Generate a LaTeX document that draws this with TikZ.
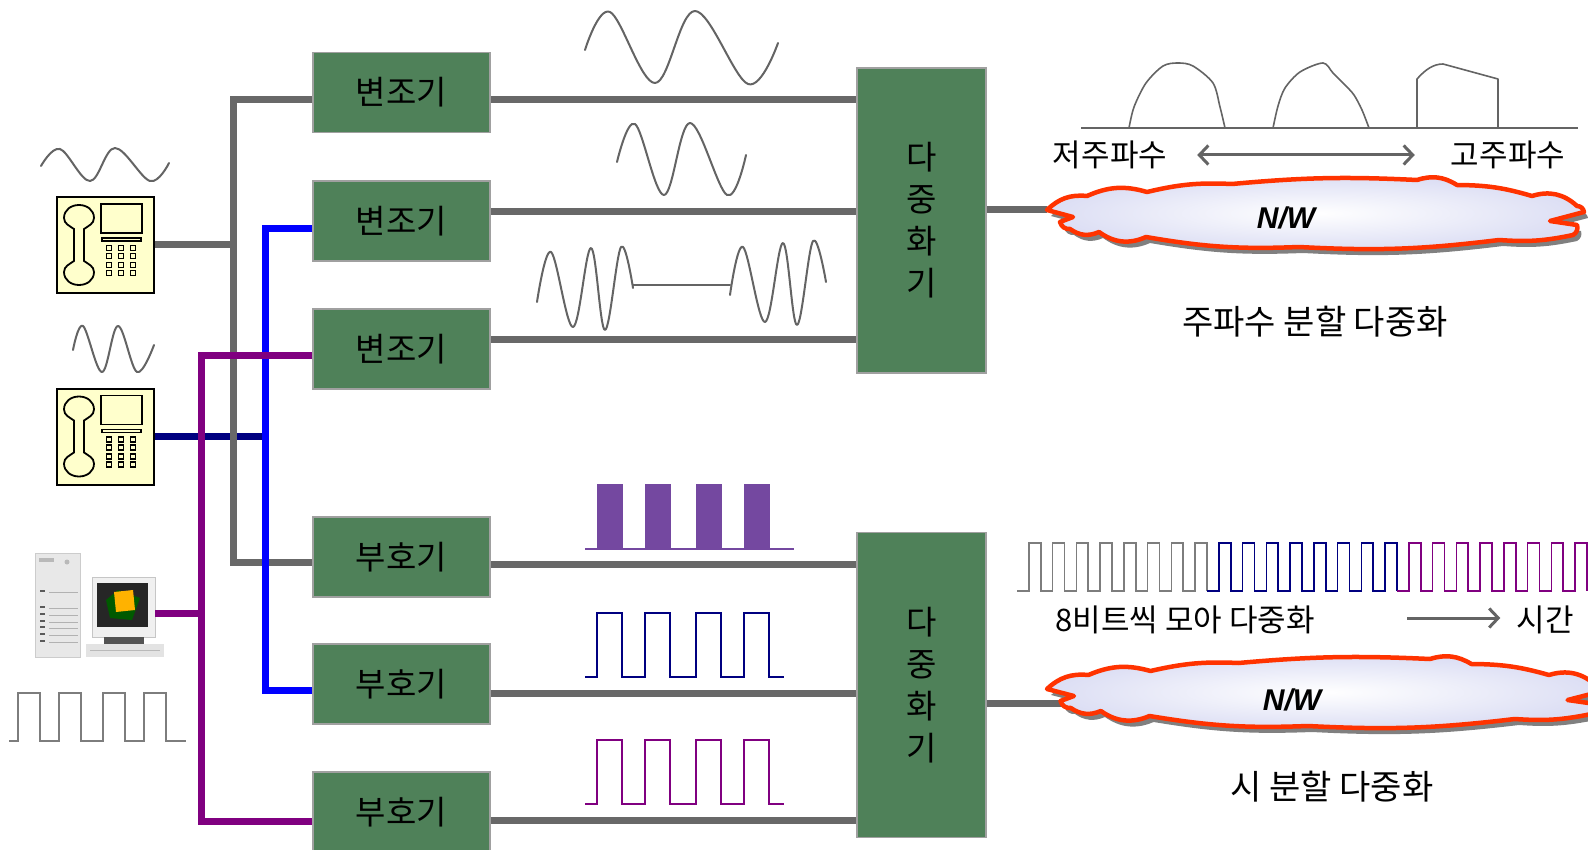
\documentclass[tikz,border=0pt]{standalone}
\usepackage{fontspec}
\setmainfont{Noto Sans CJK KR}
\newfontfamily\latinsans{Liberation Sans}
\usetikzlibrary{arrows.meta,calc}

\definecolor{boxgreen}{RGB}{79,129,89}
\definecolor{boxedge}{RGB}{160,160,160}
\definecolor{wiregray}{RGB}{104,104,104}
\definecolor{wavegray}{RGB}{100,100,100}
\definecolor{pulsegray}{RGB}{125,125,125}
\definecolor{busblue}{RGB}{0,0,255}
\definecolor{navyline}{RGB}{0,0,128}
\definecolor{violetline}{RGB}{128,0,128}
\definecolor{barviolet}{RGB}{116,72,160}
\definecolor{phoneyellow}{RGB}{255,255,204}
\definecolor{cloudred}{RGB}{255,51,0}
\definecolor{cloudblue}{RGB}{220,222,244}
\definecolor{cloudshade}{RGB}{128,128,128}

\begin{document}
\begin{tikzpicture}[x=1pt,y=-1pt,
    box/.style={draw=boxedge,fill=boxgreen,line width=1.5pt,minimum width=177pt,minimum height=80pt,inner sep=0pt,font=\fontsize{33}{38}\selectfont},
    muxbox/.style={draw=boxedge,fill=boxgreen,line width=1.5pt,minimum width=129pt,minimum height=305pt,inner sep=0pt,align=center,font=\fontsize{33}{42}\selectfont},
    phone/.style={draw=black,fill=phoneyellow,line width=2pt,minimum width=97pt,minimum height=96pt,inner sep=0pt},
    wire/.style={line width=7pt},
    wave/.style={draw=wavegray,line width=2pt,line join=round,line cap=round},
    spec/.style={draw=wavegray,line width=1.6pt,line join=round},
    pulse/.style={line width=2pt},
    arr/.style={draw=wavegray,line width=3pt},
    ->/.style={-{Straight Barb[length=9pt,width=19pt]}},
    <->/.style={{Straight Barb[length=9pt,width=19pt]}-{Straight Barb[length=9pt,width=19pt]}},
    lbl/.style={inner sep=0pt,font=\fontsize{31}{36}\selectfont},
    title/.style={inner sep=0pt,font=\fontsize{34}{40}\selectfont},
    nwtext/.style={inner sep=0pt,font=\latinsans\bfseries\itshape\fontsize{30}{36}\selectfont},
    cloudpath/.style={insert path={(0,0) to[bend left=25] (40,14) to[bend left=20] (100,18)
        to[bend left=8] (185,26) to[bend left=4] (370,30) to[bend left=25] (410,25)
        to[bend left=8] (485,14) to[bend left=30] (530,4) to[bend left=40] (537,-2)
        -- (503,-11) -- (530,-15) to[bend left=40] (526,-25)
        to[bend left=8] (452,-30) to[bend left=5] (252,-37) to[bend left=6] (99,-27)
        to[bend left=30] (52,-22) to[bend left=30] (23,-19) to[bend left=40] (13,-12)
        -- (26,-7) -- cycle}},
]
\useasboundingbox[fill=white] (0,0) rectangle (1588,850);

% modulators and encoders
\node[box] (mod1) at (401.5,92.5) {변조기};
\node[box] (mod2) at (401.5,221) {변조기};
\node[box] (mod3) at (401.5,349) {변조기};
\node[box] (enc1) at (401.5,557) {부호기};
\node[box] (enc2) at (401.5,684) {부호기};
\node[box] (enc3) at (401.5,812) {부호기};

% multiplexers
\node[muxbox] (mux1) at (921.5,220.5) {다\\중\\화\\기};
\node[muxbox] (mux2) at (921.5,685) {다\\중\\화\\기};

% terminals
\node[phone] (tel1) at (105.5,245) {};
\node[phone] (tel2) at (105.5,436.5) {};
\foreach \t in {tel1,tel2} {
  \begin{scope}[shift={(\t.north west)},line width=1.8pt]
    \draw (28,33) .. controls (32,30) and (38,28) .. (38,22) .. controls (38,14) and (31,9) .. (23,9)
      .. controls (15,9) and (8,14) .. (8,22) .. controls (8,28) and (14,30) .. (18,33) -- (18,65)
      .. controls (14,68) and (8,70) .. (8,76) .. controls (8,84) and (15,89) .. (23,89)
      .. controls (31,89) and (38,84) .. (38,76) .. controls (38,70) and (32,68) .. (28,65) -- cycle;
    \draw (45,8) rectangle (86,37);
    \draw (46,42) rectangle (85,45);
    \foreach \kx in {53,65,77}
      \foreach \ky in {52,60,69,77}
        \draw[line width=1.5pt] (\kx-2.5,\ky-2.5) rectangle ++(5,5);
  \end{scope}
}

% computer
\node[draw=gray!40,fill=gray!18,minimum width=45pt,minimum height=104pt,inner sep=0pt] (tower) at (57.5,605) {};
\fill[gray!55] (39,558) rectangle (54,562);
\fill[gray!55] (67,562) circle (2.5);
\foreach \sy in {592,608,615,622,628,635,642} {
  \fill[gray!70!black] (40,\sy) rectangle ++(5,-2.5);
  \draw[gray!60,line width=1pt] (49,\sy) -- (78,\sy);
}
\node[draw=gray!45,fill=gray!12,minimum width=63pt,minimum height=60pt,inner sep=0pt] (pc) at (123.5,607) {};
\fill[black!85] (97,583) rectangle (148,627);
\fill[green!35!black] (106,600) -- (118,590) -- (140,598) -- (132,620) -- (110,618) -- cycle;
\fill[orange!60!yellow] (114,592) -- (133,590) -- (135,610) -- (116,612) -- cycle;
\fill[gray!65!black] (104,637) rectangle (144,644);
\fill[gray!22] (86,644) rectangle (164,657);
\draw[gray!55] (90,650) -- (160,650);

% taps from the terminals
\coordinate (g_top) at (233,100);
\coordinate (g_bot) at (233,562);
\coordinate (b_top) at (265,229);
\coordinate (b_bot) at (265,690);
\coordinate (p_top) at (201,356);
\coordinate (p_mid) at (201,613);
\coordinate (p_bot) at (201,821);

\draw[wire,navyline] (tel2.east) -- (tel2.east -| b_top);
\draw[wire,wiregray] (mod1.west |- g_top) -- (g_top) -- (g_bot) -- (enc1.west |- g_bot);
\draw[wire,wiregray] (tel1.east) -- (tel1.east -| g_top);
\draw[wire,busblue] (mod2.west |- b_top) -- (b_top) -- (b_bot) -- (enc2.west |- b_bot);
\draw[wire,violetline] (mod3.west |- p_top) -- (p_top) -- (p_bot) -- (enc3.west |- p_bot);
\draw[wire,violetline] (pc.east |- p_mid) -- (p_mid);

% into the multiplexers
\draw[wire,wiregray] (mod1.east |- 0,100) -- (mux1.west |- 0,100);
\draw[wire,wiregray] (mod2.east |- 0,212) -- (mux1.west |- 0,212);
\draw[wire,wiregray] (mod3.east |- 0,340) -- (mux1.west |- 0,340);
\draw[wire,wiregray] (enc1.east |- 0,564) -- (mux2.west |- 0,564);
\draw[wire,wiregray] (enc2.east |- 0,693) -- (mux2.west |- 0,693);
\draw[wire,wiregray] (enc3.east |- 0,820) -- (mux2.west |- 0,820);

% networks
\coordinate (net1) at (1047,210);
\coordinate (net2) at (1047,689);
\coordinate (tdm) at (1070,703);
\draw[wire,wiregray] (mux1.east |- net1) -- (net1);
\draw[wire,wiregray] (mux2.east |- tdm) -- (tdm);

\begin{scope}[shift={(net1)},y=1pt]
  \fill[cloudshade,shift={(4,-6)},cloudpath];
  \path[draw=cloudred,line width=4.5pt,line join=round,inner color=white,outer color=cloudblue,cloudpath];
\end{scope}
\begin{scope}[shift={(net2)},y=1pt,xscale=1.035]
  \fill[cloudshade,shift={(4,-6)},cloudpath];
  \path[draw=cloudred,line width=4.5pt,line join=round,inner color=white,outer color=cloudblue,cloudpath];
\end{scope}
\node[nwtext] (nw1) at (1286,218) {N/W};
\node[nwtext] (nw2) at (1292,700) {N/W};

% analogue signals
\draw[wave] plot[smooth,tension=0.6] coordinates {(41,166) (60,149) (90,181) (115,148) (150,181) (169,163)};
\draw[wave] plot[smooth,tension=0.6] coordinates {(73,350) (83,326) (102,372) (118,326) (137,372) (154,345)};
\draw[wave] plot[smooth,tension=0.6] coordinates {(585,50) (610,12) (655,83) (695,11) (748,84) (778,43)};
\draw[wave] plot[smooth,tension=0.6] coordinates {(617,162) (635,124) (664,195) (690,123) (727,195) (746,155)};
\draw[wave] plot[smooth,tension=0.6] coordinates {(537,302) (551,252) (573,327) (591,248) (605,330) (621,247) (633,288)};
\draw[wave] (633,285) -- (730,285);
\draw[wave] plot[smooth,tension=0.6] coordinates {(730,295) (743,247) (765,322) (783,243) (797,325) (813,241) (826,282)};

% digital signals
\draw[pulse,pulsegray,line width=1.8pt] (9,741) -- (18,741)
  \foreach \px in {18,59,103,144} { -- (\px,741) -- (\px,693) -- (\px+22,693) -- (\px+22,741) } -- (186,741);
\draw[pulse,barviolet] (585,549) -- (794,549);
\foreach \px in {597,645,696,744}
  \fill[barviolet] (\px,549) rectangle ++(26,-65);
\foreach \py/\c in {677/navyline,804/violetline}
  \draw[pulse,\c] (585,\py) \foreach \px in {597,645,696,744} { -- (\px,\py) -- (\px,\py-64) -- (\px+25,\py-64) -- (\px+25,\py) } -- (784,\py);

% time division stream
\foreach \c [count=\i from 0] in {pulsegray,navyline,violetline}
  \draw[pulse,\c,line width=1.7pt] (1017+190*\i,591) \foreach \k in {1,...,8} { -- ++(11.875,0) -- ++(0,-48) -- ++(11.875,0) -- ++(0,48) };

% spectrum
\draw[spec] (1081,128) -- (1578,128);
\draw[spec] plot[smooth,tension=0.5] coordinates {(1129,128) (1134,107) (1146,83) (1163,66) (1178,63) (1193,66) (1213,83) (1220,107) (1225,128)};
\draw[spec] plot[smooth,tension=0.5] coordinates {(1273,128) (1278,106) (1285,88) (1300,72) (1323,63) (1333,73) (1345,85) (1354,95) (1362,110) (1369,128)};
\draw[spec] (1417,128) -- (1417,79) .. controls (1425,70) and (1433,64) .. (1443,64) -- (1498,79) -- (1498,128);

% labels
\node[lbl] (lowf) at (1110,155) {저주파수};
\node[lbl] (highf) at (1508,155) {고주파수};
\draw[arr,<->] ([xshift=30]lowf.east) -- ([xshift=-36]highf.west);
\node[title] (fdmlbl) at (1315,322) {주파수 분할 다중화};
\node[lbl] (bits) at (1185,620) {8비트씩 모아 다중화};
\node[lbl] (timelbl) at (1545,620) {시간};
\coordinate (t0) at (1407,618);
\draw[arr,->] (t0) -- ([xshift=-16]timelbl.west |- t0);
\node[title] (tdmlbl) at (1332,787) {시 분할 다중화};

\end{tikzpicture}
\end{document}
